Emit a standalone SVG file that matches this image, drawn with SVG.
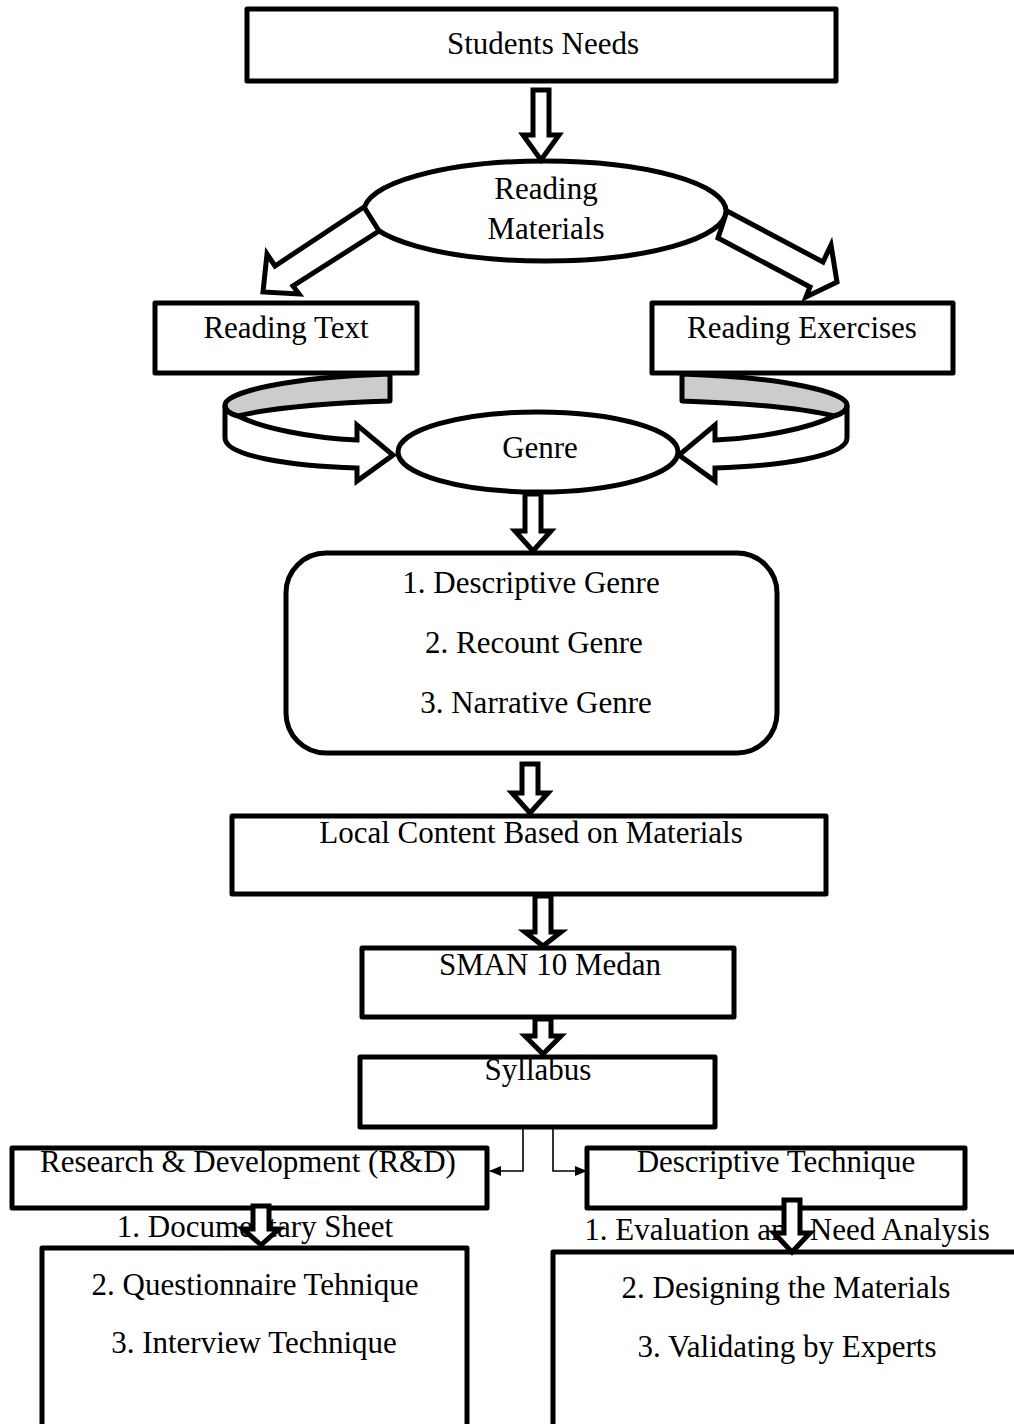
<svg xmlns="http://www.w3.org/2000/svg" width="1014" height="1424" viewBox="0 0 1014 1424">
<style>
  .box{fill:#fff;stroke:#000;stroke-width:5;stroke-linejoin:round}
  .blk{fill:#fff;stroke:#000;stroke-width:5;stroke-linejoin:miter;stroke-miterlimit:4}
  .band{fill:#cccccc;stroke:#000;stroke-width:5;stroke-linejoin:round}
  .bandw{fill:#fff;stroke:#000;stroke-width:5;stroke-linejoin:miter}
  .t{font-family:"Liberation Serif","Times New Roman",serif;font-size:31px;fill:#000;text-anchor:middle}
  .thin{fill:none;stroke:#000;stroke-width:1.6}
</style>
<defs>
  <marker id="ah" markerWidth="12" markerHeight="12" viewBox="0 0 12 12" refX="11" refY="6" orient="auto" markerUnits="userSpaceOnUse">
    <polygon points="0,1 12,6 0,11" fill="#000"/>
  </marker>
  <g id="curl">
    <path class="band" d="M390,374 L390,401 C330,403 270,408 238,416 C230,414 225,410 225,405 C225,392 290,377 390,374 Z"/>
    <path class="bandw" d="M225,405 C225,410 230,414 238,416 C262,428 310,438 357,440 L357,425 L393,455 L357,481 L357,468 C290,466 225,456 225,438 Z"/>
  </g>
</defs>

<g id="n-students">
  <rect class="box" x="247" y="9" width="589" height="72"/>
  <text class="t" x="543" y="54">Students Needs</text>
</g>

<g id="n-materials">
  <ellipse class="box" cx="545" cy="211" rx="181" ry="50"/>
  <text class="t" x="546" y="199">Reading</text>
  <text class="t" x="546" y="239">Materials</text>
</g>

<g id="n-text">
  <rect class="box" x="155" y="303" width="262" height="70"/>
  <text class="t" x="286" y="338">Reading Text</text>
</g>

<g id="n-exercises">
  <rect class="box" x="652" y="303" width="301" height="70"/>
  <text class="t" x="802" y="338">Reading Exercises</text>
</g>

<g id="n-genre">
  <ellipse class="box" cx="538" cy="452" rx="140" ry="40"/>
  <text class="t" x="540" y="458">Genre</text>
</g>

<g id="n-genres">
  <rect class="box" x="286" y="553" width="491" height="200" rx="40" ry="40"/>
  <text class="t" x="531" y="593">1. Descriptive Genre</text>
  <text class="t" x="534" y="653">2. Recount Genre</text>
  <text class="t" x="536" y="713">3. Narrative Genre</text>
</g>

<g id="n-local">
  <rect class="box" x="232" y="816" width="594" height="78"/>
  <text class="t" x="531" y="843">Local Content Based on Materials</text>
</g>

<g id="n-sman">
  <rect class="box" x="362" y="948" width="372" height="69"/>
  <text class="t" x="550" y="975">SMAN 10 Medan</text>
</g>

<g id="n-syllabus">
  <rect class="box" x="360" y="1057" width="355" height="70"/>
  <text class="t" x="538" y="1080">Syllabus</text>
</g>

<g id="n-rd">
  <rect class="box" x="12" y="1148" width="475" height="60"/>
  <text class="t" x="248" y="1172">Research &amp; Development (R&amp;D)</text>
</g>

<g id="n-desc">
  <rect class="box" x="587" y="1148" width="378" height="60"/>
  <text class="t" x="776" y="1172">Descriptive Technique</text>
</g>

<g id="n-rd-list">
  <text class="t" x="255" y="1237">1. Documentary Sheet</text>
  <path class="box" d="M42,1430 V1248 H467 V1430"/>
  <text class="t" x="255" y="1295">2. Questionnaire Tehnique</text>
  <text class="t" x="254" y="1353">3. Interview Technique</text>
</g>

<g id="n-desc-list">
  <text class="t" x="787" y="1240">1. Evaluation and Need Analysis</text>
  <path class="box" d="M553,1430 V1252 H1020"/>
  <text class="t" x="786" y="1298">2. Designing the Materials</text>
  <text class="t" x="787" y="1357">3. Validating by Experts</text>
</g>

<g id="connectors">
  <path class="blk" d="M533,90 H549 V135 H559 L541,160 L523,135 H533 Z"/>
  <polygon class="blk" points="364,207 275,266 267,254 263,292 299,294 293,286 379,231"/>
  <polygon class="blk" points="727,211 823,262 831,245 837,282 806,297 810,287 718,238"/>
  <use href="#curl"/>
  <use href="#curl" transform="translate(1072,0) scale(-1,1)"/>
  <path class="blk" d="M525,494 H541 V531 H551 L533,551 L515,531 H525 Z"/>
  <path class="blk" d="M522,764 H538 V793 H548 L530,813 L512,793 H522 Z"/>
  <path class="blk" d="M535,896 H551 V932 H561 L543,946 L525,932 H535 Z"/>
  <path class="blk" d="M535,1019 H551 V1036 H561 L543,1054 L525,1036 H535 Z"/>
  <path class="thin" d="M523,1127 V1171 H490" marker-end="url(#ah)"/>
  <path class="thin" d="M553,1127 V1171 H586" marker-end="url(#ah)"/>
  <path class="blk" d="M253,1206 H269 V1229 H279 L261,1245 L243,1229 H253 Z"/>
  <path class="blk" d="M784,1200 H800 V1233 H810 L792,1252 L774,1233 H784 Z"/>
</g>
</svg>
